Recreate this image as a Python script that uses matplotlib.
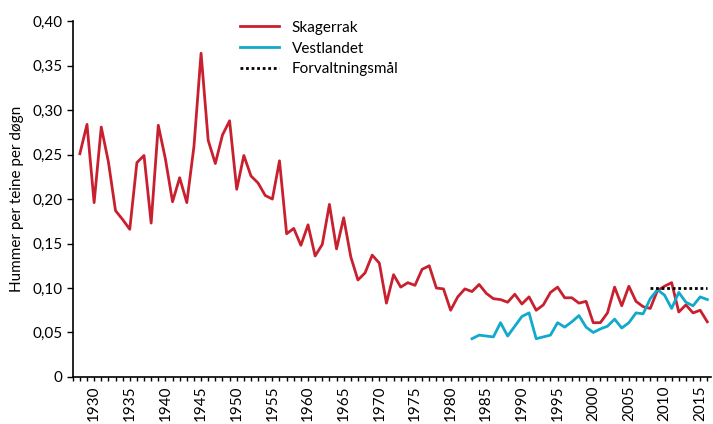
import matplotlib.pyplot as plt
from matplotlib.ticker import MultipleLocator, FixedLocator

plt.rcParams['font.family'] = ['Lato', 'DejaVu Sans']

# Skagerrak 1928-2016
skagerrak_years = list(range(1928, 2017))
skagerrak = [
    0.251, 0.284, 0.196, 0.281, 0.242, 0.187, 0.177, 0.166, 0.241, 0.249,
    0.173, 0.283, 0.245, 0.197, 0.224, 0.196, 0.259, 0.364, 0.266, 0.240,
    0.272, 0.288, 0.211, 0.249, 0.226, 0.218, 0.204, 0.200, 0.243, 0.161,
    0.167, 0.148, 0.171, 0.136, 0.149, 0.194, 0.144, 0.179, 0.135, 0.109,
    0.117, 0.137, 0.128, 0.083, 0.115, 0.101, 0.106, 0.103, 0.121, 0.125,
    0.100, 0.099, 0.075, 0.090, 0.099, 0.096, 0.104, 0.094, 0.088, 0.087,
    0.084, 0.093, 0.082, 0.090, 0.075, 0.081, 0.095, 0.101, 0.089, 0.089,
    0.083, 0.085, 0.061, 0.061, 0.072, 0.101, 0.080, 0.102, 0.085, 0.079,
    0.077, 0.097, 0.102, 0.106, 0.073, 0.081, 0.072, 0.075, 0.062,
]

# Vestlandet 1983-2016
vestlandet_years = list(range(1983, 2017))
vestlandet = [
    0.043, 0.047, 0.046, 0.045, 0.061, 0.046, 0.057, 0.068, 0.072, 0.043,
    0.045, 0.047, 0.061, 0.056, 0.062, 0.069, 0.056, 0.050, 0.054, 0.057,
    0.065, 0.055, 0.061, 0.072, 0.071, 0.088, 0.098, 0.092, 0.077, 0.095,
    0.084, 0.080, 0.090, 0.087,
]

# Forvaltningsmål
target_years = [2008, 2016]
target = [0.10, 0.10]

y_ticks = [0, 0.05, 0.10, 0.15, 0.20, 0.25, 0.30, 0.35, 0.40]
y_labels = ['0', '0,05', '0,10', '0,15', '0,20', '0,25', '0,30', '0,35', '0,40']

fig = plt.figure(figsize=(7.13, 4.24), dpi=100)
ax = fig.add_axes([0.102, 0.111, 0.895, 0.839])

ax.plot(skagerrak_years, skagerrak, color='#C8202E', lw=2.0, label='Skagerrak')
ax.plot(vestlandet_years, vestlandet, color='#11A9CC', lw=2.0, label='Vestlandet')
ax.plot(target_years, target, color='black', lw=2.0, ls=(0, (1, 1)),
        label='Forvaltningsmål')

ax.set_xlim(1927, 2016.5)
ax.set_ylim(0, 0.40)

ax.yaxis.set_major_locator(FixedLocator(y_ticks))
ax.set_yticklabels(y_labels)
ax.xaxis.set_major_locator(MultipleLocator(5))
ax.xaxis.set_minor_locator(MultipleLocator(1))
ax.set_xticks(range(1930, 2016, 5))
ax.tick_params(axis='x', which='both', length=3, width=1, direction='out',
               labelsize=11, labelrotation=90, colors='black')
ax.tick_params(axis='y', length=4, width=1, direction='out', labelsize=11)

for s in ['top', 'right']:
    ax.spines[s].set_visible(False)
for s in ['left', 'bottom']:
    ax.spines[s].set_linewidth(1.2)

ax.set_ylabel('Hummer per teine per døgn', fontsize=11, labelpad=6)

ax.legend(loc='upper left', bbox_to_anchor=(0.24, 1.04), frameon=False,
          fontsize=11, handlelength=2.6, labelspacing=0.45, handletextpad=0.8)

fig.savefig('out.png', dpi=100)
